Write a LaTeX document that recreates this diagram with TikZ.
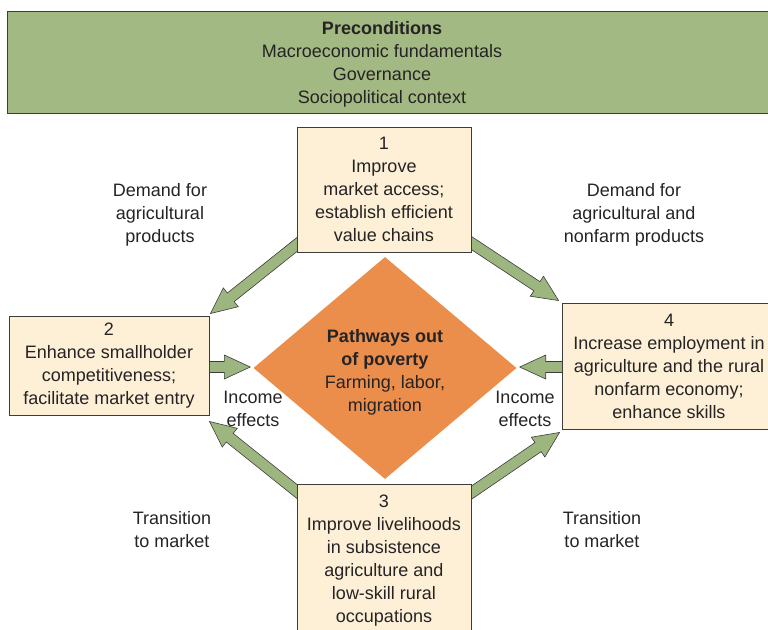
\documentclass[tikz,border=0pt]{standalone}
\usepackage{fontspec}
\setmainfont{Liberation Sans}
\usetikzlibrary{shapes.geometric,calc,backgrounds}

\definecolor{precolor}{HTML}{A3B983}
\definecolor{arrowcolor}{HTML}{9DB57F}
\definecolor{boxcolor}{HTML}{FDF0D7}
\definecolor{pathcolor}{HTML}{EB8D4B}
\definecolor{inkcolor}{HTML}{262324}
\definecolor{edgecolor}{HTML}{3C3C3C}

\def \shafthalf {5.5pt}
\def \headhalf {12pt}
\def \headlen {26pt}

\begin{document}
\begin{tikzpicture}[x=1pt, y=-1pt,
  every node/.style={text=inkcolor, font=\fontsize{18}{23}\selectfont, align=center},
  stepbox/.style={draw=edgecolor, line width=0.9pt, fill=boxcolor, inner sep=0pt},
  prebox/.style={draw=edgecolor, line width=0.9pt, fill=precolor, inner sep=0pt,
    minimum width=768pt, minimum height=102pt},
  fatarrow/.style={draw=edgecolor, line width=0.6pt, fill=arrowcolor, to path={
    ($(\tikztostart)!\shafthalf!90:(\tikztotarget)$)
    -- ($($(\tikztotarget)!\headlen!(\tikztostart)$)!\shafthalf!90:(\tikztotarget)$)
    -- ($($(\tikztotarget)!\headlen!(\tikztostart)$)!\headhalf!90:(\tikztotarget)$)
    -- (\tikztotarget)
    -- ($($(\tikztotarget)!\headlen!(\tikztostart)$)!\headhalf!-90:(\tikztotarget)$)
    -- ($($(\tikztotarget)!\headlen!(\tikztostart)$)!\shafthalf!-90:(\tikztotarget)$)
    -- ($(\tikztostart)!\shafthalf!-90:(\tikztotarget)$)
    -- cycle}}]
\useasboundingbox (0,0) rectangle (768,629);

% preconditions
\node[prebox] (pre) at (391,62) {};
\node (pretxt) at (382,64) {\textbf{Preconditions}\\Macroeconomic fundamentals\\Governance\\Sociopolitical context};

% the four steps
\node[stepbox, minimum width=174pt, minimum height=125pt] (b1) at (384,189.5) {1\\Improve\\market access;\\establish efficient\\value chains};
\node[stepbox, minimum width=200pt, minimum height=99pt] (b2) at (109,365.5) {2\\Enhance smallholder\\competitiveness;\\facilitate market entry};
\node[stepbox, minimum width=174pt, minimum height=154pt] (b3) at (384,561) {3\\Improve livelihoods\\in subsistence\\agriculture and\\low-skill rural\\occupations};
\node[stepbox, minimum width=214pt, minimum height=126pt] (b4) at (669,366) {4\\Increase employment in\\agriculture and the rural\\nonfarm economy;\\enhance skills};

% centre
\node[diamond, fill=pathcolor, minimum width=263pt, minimum height=222pt, inner sep=0pt] (dia) at (385,368) {};
\node (diatxt) at (385,372) {\textbf{Pathways out}\\\textbf{of poverty}\\Farming, labor,\\migration};

% labels
\node (dleft) at (160,215) {Demand for\\agricultural\\products};
\node (dright) at (634,215) {Demand for\\agricultural and\\nonfarm products};
\node (ileft) at (253,408.5) {Income\\effects};
\node (iright) at (525,408.5) {Income\\effects};
\node (tleft) at (172,529.5) {Transition\\to market};
\node (tright) at (602,529.5) {Transition\\to market};

% arrow ends
\coordinate (s12) at ($(b1.south west)+(13,-18)$);
\coordinate (e12) at ($(b2.north east)+(1,-2)$);
\coordinate (s14) at ($(b1.south east)+(-13,-18)$);
\coordinate (e14) at ($(b4.north west)+(-3,-2)$);
\coordinate (s32) at ($(b3.north west)+(13,18)$);
\coordinate (e32) at ($(b2.south east)+(0,6)$);
\coordinate (s34) at ($(b3.north east)+(-13,18)$);
\coordinate (e34) at ($(b4.south west)+(-2,3)$);
\coordinate (s2d) at ($(b2.east)+(-10,1.5)$);
\coordinate (e2d) at ($(dia.west)+(-3,-1)$);
\coordinate (s4d) at ($(b4.west)+(10,1)$);
\coordinate (e4d) at ($(dia.east)+(3,-1)$);

\begin{scope}[on background layer]
\draw[fatarrow] (s12) to (e12);
\draw[fatarrow] (s14) to (e14);
\draw[fatarrow] (s32) to (e32);
\draw[fatarrow] (s34) to (e34);
\draw[fatarrow] (s2d) to (e2d);
\draw[fatarrow] (s4d) to (e4d);
\end{scope}
\end{tikzpicture}
\end{document}
